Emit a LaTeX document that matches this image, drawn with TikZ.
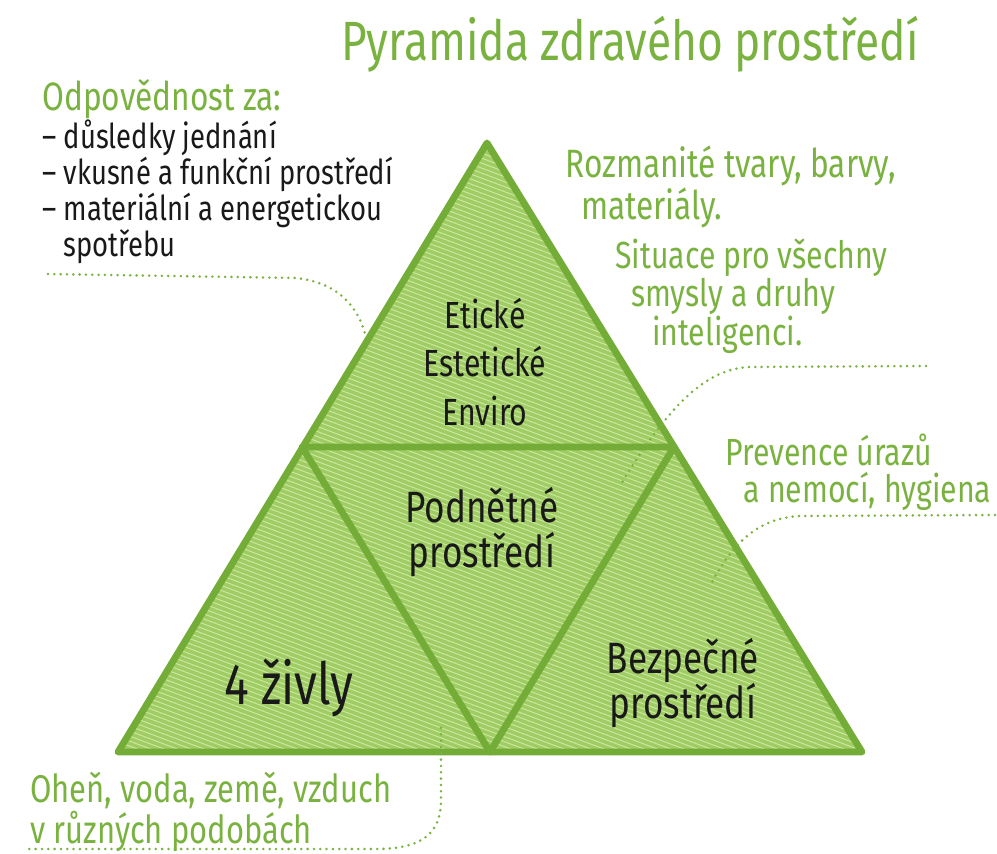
\documentclass[tikz,border=0pt]{standalone}
\usepackage{fontspec}
\setmainfont{Fira Sans}[FakeStretch=0.8]
\usetikzlibrary{positioning}
\definecolor{leaf}{RGB}{122,178,64}
\definecolor{edgegreen}{RGB}{116,172,56}
\definecolor{pyrfill}{RGB}{160,204,100}
\definecolor{hatchgreen}{RGB}{204,232,162}
\definecolor{ink}{RGB}{25,25,25}

\begin{document}
\begin{tikzpicture}[x=0.02cm,y=-0.02cm,
  pyredge/.style={draw=edgegreen,line width=3.9pt,line join=round,line cap=round},
  hatch/.style={draw=hatchgreen,line width=0.55pt},
  note/.style={text=leaf,align=left,anchor=west,inner sep=0pt},
  listtext/.style={text=ink,align=left,anchor=west,inner sep=0pt},
  cell/.style={text=ink,align=center,inner sep=0pt},
  leader/.style={leaf,line width=1.6pt,line cap=round,dash pattern=on 0pt off 3.6pt}
]
\useasboundingbox (0,0) rectangle (997,854);

% corners of the pyramid
\coordinate (apex) at (487,143);
\coordinate (bl)   at (118,752);
\coordinate (br)   at (862,752);
\coordinate (ml)   at (302,447);
\coordinate (mr)   at (674,447);
\coordinate (mb)   at (490,752);

% scribbled fill
\fill[pyrfill] (apex) -- (bl) -- (br) -- cycle;
\begin{scope}
  \clip (apex) -- (bl) -- (br) -- cycle;
  \foreach \y in {-320,-315,...,780}
    \draw[hatch] (100,\y) -- (900,{\y+300});
\end{scope}
\draw[pyredge] (apex) -- (bl) -- (br) -- cycle;
\draw[pyredge] (ml) -- (mr) -- (mb) -- cycle;

% title
\node[text=leaf,font=\fontsize{31.5}{34}\selectfont] (title) at (630,44) {Pyramida zdravého prostředí};

% labels inside the pyramid
\node[cell,font=\fontsize{21.5}{27.8}\selectfont] (ethic) at (485,362) {Etické\\Estetické\\Enviro};
\node[cell,font=\fontsize{25}{25.5}\selectfont] (stim) at (482,532) {Podnětné\\prostředí};
\node[cell,font=\fontsize{33}{34}\selectfont] (elem) at (289,688) {4 živly};
\node[cell,font=\fontsize{25}{25.5}\selectfont] (safe) at (683,683) {Bezpečné\\prostředí};

% notes round the pyramid
\node[note,font=\fontsize{22.5}{24}\selectfont] (resp) at (42,99) {Odpovědnost za:};
\node[listtext,font=\fontsize{19.5}{20.4}\selectfont] (resplist) at (42,192)
  {– důsledky jednání\\– vkusné a funkční prostředí\\– materiální a energetickou\\\phantom{– }spotřebu};
\node[note,font=\fontsize{22.5}{20.5}\selectfont] (shapes) at (565,187)
  {Rozmanité tvary, barvy,\\\hspace{9pt}materiály.};
\node[note,font=\fontsize{21.5}{19.8}\selectfont] (senses) at (615,296)
  {Situace pro všechny\\\hspace{9pt}smysly a druhy\\\hspace{21pt}inteligenci.};
\node[note,font=\fontsize{21.5}{21}\selectfont] (prev) at (725,472)
  {Prevence úrazů\\\hspace{10.5pt}a nemocí, hygiena};
\node[note,font=\fontsize{22}{20.5}\selectfont] (fire) at (30,812)
  {Oheň, voda, země, vzduch\\v různých podobách};

% dotted leaders
\coordinate (l1a) at (48,274);
\coordinate (l1b) at (366,338);
\draw[leader] (l1a) -- (295,278) .. controls (340,282) and (360,310) .. (l1b);
\coordinate (l2a) at (926,366);
\coordinate (l2b) at (621,484);
\draw[leader] (l2a) -- (750,367) .. controls (700,368) and (660,420) .. (l2b);
\coordinate (l3a) at (995,515);
\coordinate (l3b) at (712,582);
\draw[leader] (l3a) -- (800,516) .. controls (760,518) and (735,540) .. (l3b);
\coordinate (l4a) at (441,728);
\coordinate (l4b) at (28,849);
\draw[leader] (l4a) -- (441,800) .. controls (441,835) and (420,848) .. (380,849) -- (l4b);
\end{tikzpicture}
\end{document}
